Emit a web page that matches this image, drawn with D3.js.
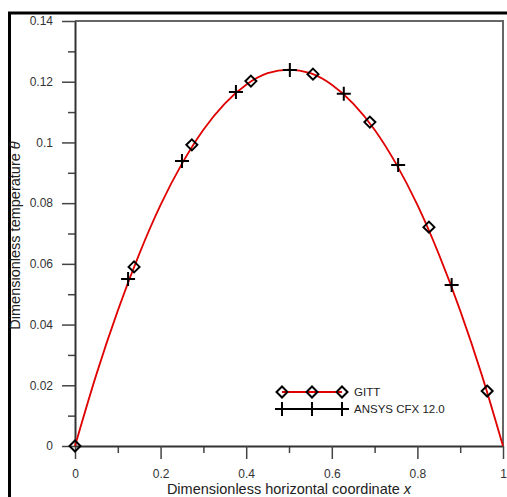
<!DOCTYPE html>
<html>
<head>
<meta charset="utf-8">
<script src="https://cdn.jsdelivr.net/npm/d3@7"></script>
<style>
  body { margin: 0; background: #fff; }
  text { font-family: "Liberation Sans", Arial, sans-serif; }
</style>
</head>
<body>
<div id="chart"></div>
<script>
// GITT solution curve
var curveX = [0, 0.05, 0.1, 0.15, 0.2, 0.25, 0.3, 0.35, 0.4, 0.45, 0.5, 0.55, 0.6, 0.65, 0.7, 0.75, 0.8, 0.85, 0.9, 0.95, 1];
var curveY = [0, 0.0236, 0.0446, 0.0632, 0.0794, 0.093, 0.1042, 0.1128, 0.119, 0.1228, 0.124, 0.1228, 0.119, 0.1128, 0.1042, 0.093, 0.0794, 0.0632, 0.0446, 0.0236, 0];

// GITT markers
var gittX = [0, 0.138, 0.273, 0.411, 0.556, 0.689, 0.827, 0.963];
var gittY = [0, 0.059, 0.0992, 0.1202, 0.1225, 0.1067, 0.0721, 0.0181];

// ANSYS CFX 12.0 markers
var cfxX = [0.124, 0.25, 0.376, 0.502, 0.628, 0.755, 0.88];
var cfxY = [0.055, 0.0939, 0.1166, 0.1239, 0.116, 0.0926, 0.053];

var xTicks = [0, 0.2, 0.4, 0.6, 0.8, 1];
var yTicks = [0, 0.02, 0.04, 0.06, 0.08, 0.1, 0.12, 0.14];
var xMinor = [0.1, 0.3, 0.5, 0.7, 0.9];
var yMinor = [0.01, 0.03, 0.05, 0.07, 0.09, 0.11, 0.13];

var width = 507, height = 497;
var plotLeft = 75, plotRight = 503, plotTop = 21, plotBottom = 446;

var svg = d3.select('#chart').append('svg')
    .attr('width', width)
    .attr('height', height);

// outer frame
svg.append('rect')
    .attr('x', 9.5).attr('y', 13)
    .attr('width', 520).attr('height', 520)
    .style('fill', 'none').style('stroke', '#000').style('stroke-width', 3);

var x = d3.scaleLinear().domain([0, 1]).range([plotLeft, plotRight]);
var y = d3.scaleLinear().domain([0, 0.14]).range([plotBottom, plotTop]);

// box top/right
svg.append('path')
    .attr('d', 'M' + plotLeft + ',' + plotTop + 'H' + plotRight + 'V' + plotBottom)
    .style('fill', 'none').style('stroke', '#666').style('stroke-width', 2);

// minor ticks
svg.append('g').attr('transform', 'translate(0,' + plotBottom + ')')
    .call(d3.axisBottom(x).tickValues(xMinor).tickSize(7).tickFormat(''))
    .call(function (g) { g.select('.domain').remove(); })
    .selectAll('line').style('stroke', '#444').style('stroke-width', 1.5);
svg.append('g').attr('transform', 'translate(' + plotLeft + ',0)')
    .call(d3.axisLeft(y).tickValues(yMinor).tickSize(7).tickFormat(''))
    .call(function (g) { g.select('.domain').remove(); })
    .selectAll('line').style('stroke', '#444').style('stroke-width', 1.5);

// major axes
var xAxis = svg.append('g').attr('transform', 'translate(0,' + plotBottom + ')')
    .call(d3.axisBottom(x).tickValues(xTicks).tickSize(13).tickSizeOuter(0).tickPadding(10)
        .tickFormat(function (d) { return d; }));
var yAxis = svg.append('g').attr('transform', 'translate(' + plotLeft + ',0)')
    .call(d3.axisLeft(y).tickValues(yTicks).tickSize(13).tickSizeOuter(0).tickPadding(9)
        .tickFormat(function (d) { return d; }));

[xAxis, yAxis].forEach(function (g) {
    g.select('.domain').style('stroke', '#333').style('stroke-width', 2);
    g.selectAll('line').style('stroke', '#444').style('stroke-width', 1.5);
    g.selectAll('text').style('font-size', '12px').style('fill', '#333')
        .style('font-family', '"Liberation Sans", Arial, sans-serif');
});

// axis titles
svg.append('text')
    .attr('x', (plotLeft + plotRight) / 2).attr('y', 494)
    .attr('text-anchor', 'middle')
    .style('font-size', '14.5px').style('fill', '#222')
    .html('Dimensionless horizontal coordinate <tspan font-style="italic">x</tspan>');
svg.append('text')
    .attr('transform', 'translate(20,' + ((plotTop + plotBottom) / 2 + 2) + ') rotate(-90)')
    .attr('text-anchor', 'middle')
    .style('font-size', '14.5px').style('fill', '#222')
    .html('Dimensionless temperature <tspan font-style="italic">θ</tspan>');

// red curve
var line = d3.line()
    .x(function (d) { return x(d[0]); })
    .y(function (d) { return y(d[1]); })
    .curve(d3.curveMonotoneX);
svg.append('path')
    .datum(d3.zip(curveX, curveY))
    .attr('d', line)
    .style('fill', 'none').style('stroke', '#e00000').style('stroke-width', 1.8);

function diamond(g, cx, cy) {
    var r = 5.5;
    g.append('path')
        .attr('d', 'M' + cx + ',' + (cy - r) + 'L' + (cx + r) + ',' + cy + 'L' + cx + ',' + (cy + r) + 'L' + (cx - r) + ',' + cy + 'Z')
        .style('fill', 'none').style('stroke', '#000').style('stroke-width', 2);
}
function plus(g, cx, cy) {
    var r = 7;
    g.append('path')
        .attr('d', 'M' + (cx - r) + ',' + cy + 'H' + (cx + r) + 'M' + cx + ',' + (cy - r) + 'V' + (cy + r))
        .style('fill', 'none').style('stroke', '#000').style('stroke-width', 2);
}

var marks = svg.append('g');
d3.zip(gittX, gittY).forEach(function (d) { diamond(marks, x(d[0]), y(d[1])); });
d3.zip(cfxX, cfxY).forEach(function (d) { plus(marks, x(d[0]), y(d[1])); });

// legend
var lg = svg.append('g');
var lx = [282, 312, 342];
lg.append('line').attr('x1', 282).attr('x2', 342).attr('y1', 392).attr('y2', 392)
    .style('stroke', '#e00000').style('stroke-width', 1.8);
lx.forEach(function (v) { diamond(lg, v, 392); });
lg.append('line').attr('x1', 276).attr('x2', 349).attr('y1', 409).attr('y2', 409)
    .style('stroke', '#000').style('stroke-width', 2);
lx.forEach(function (v) { plus(lg, v, 409); });
lg.append('text').attr('x', 354).attr('y', 396).text('GITT')
    .style('font-size', '11.5px').style('fill', '#222');
lg.append('text').attr('x', 354).attr('y', 413).text('ANSYS CFX 12.0')
    .style('font-size', '11.5px').style('fill', '#222');
</script>
</body>
</html>
